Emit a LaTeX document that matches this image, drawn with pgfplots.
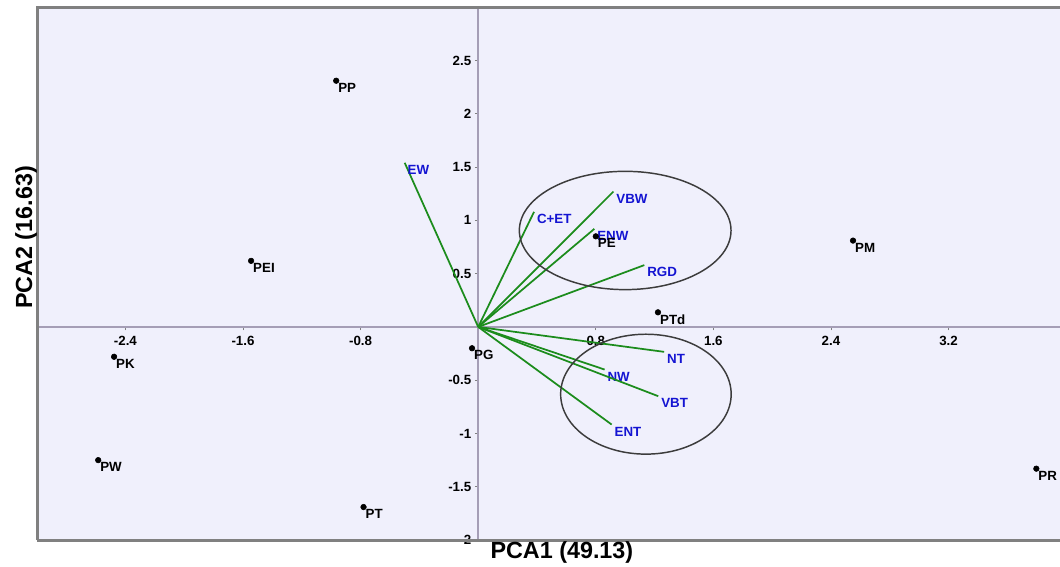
\documentclass[border=0pt]{standalone}
\usepackage{fontspec}
\setmainfont{Liberation Sans}
\usepackage{pgfplots}
\pgfplotsset{compat=1.18}
\usepackage{pgfplotstable}
\definecolor{bgcol}{RGB}{240,240,252}
\definecolor{bordercol}{RGB}{128,128,128}
\definecolor{zerocol}{RGB}{165,158,182}
\definecolor{veccol}{RGB}{28,140,28}
\definecolor{labcol}{RGB}{20,20,210}
\definecolor{ellcol}{RGB}{60,60,60}

\tikzset{
  vec/.style={draw=veccol, line width=1.3pt},
  vlab/.style={anchor=west, text=labcol, inner sep=0pt, xshift=1.6pt, yshift=-5.2pt, font=\fontsize{10}{11}\selectfont\bfseries},
}

\pgfplotstableread{
x y label
-0.966 2.31 PP
-1.545 0.62 PEI
-2.477 -0.28 PK
-2.585 -1.25 PW
-0.78 -1.69 PT
-0.042 -0.20 PG
0.80 0.85 PE
2.55 0.81 PM
1.223 0.137 PTd
3.797 -1.33 PR
}\scores

\begin{document}
\begin{tikzpicture}
\begin{axis}[
  x=110.2pt, y=79.9pt,
  xmin=-3, xmax=3.958, ymin=-2, ymax=3,
  axis lines=middle,
  axis line style={-, draw=zerocol, line width=1.5pt},
  axis background/.style={fill=bgcol},
  xtick={-2.4,-1.6,-0.8,0.8,1.6,2.4,3.2},
  xticklabels={-2.4,-1.6,-0.8,0.8,1.6,2.4,3.2},
  ytick={-2,-1.5,-1,-0.5,0.5,1,1.5,2,2.5},
  yticklabels={-2,-1.5,-1,-0.5,0.5,1,1.5,2,2.5},
  tick align=outside,
  major tick length=2.5pt,
  tick style={draw=bordercol, line width=0.6pt},
  ticklabel style={font=\fontsize{10}{11}\selectfont\bfseries, inner sep=1pt},
  xticklabel style={yshift=-3pt},
  yticklabel style={xshift=-1.5pt},
  xlabel={PCA1 (49.13)},
  ylabel={PCA2 (16.63)},
  xlabel style={at={(rel axis cs:0.513,0)}, anchor=north, inner sep=0pt, yshift=-1pt, font=\fontsize{17.5}{19}\selectfont\bfseries},
  ylabel style={at={(rel axis cs:0,0.573)}, anchor=south, rotate=90, inner sep=0pt, xshift=-2pt, font=\fontsize{17.5}{19}\selectfont\bfseries},
  clip=false,
]
\coordinate (bl) at (rel axis cs:0,0);
\coordinate (tr) at (rel axis cs:1,1);
\draw[bordercol, line width=2.2pt] (rel axis cs:0,0) -- (rel axis cs:0,1) -- (rel axis cs:1,1);
\draw[bordercol, line width=2.2pt] (rel axis cs:0,0) -- (rel axis cs:1,0);

\addplot[vec] coordinates {(0,0) (-0.50,1.54)} node[vlab, pos=1] {EW};
\addplot[vec] coordinates {(0,0) (0.38,1.08)} node[vlab, pos=1] {C+ET};
\addplot[vec] coordinates {(0,0) (0.92,1.27)} node[vlab, pos=1] {VBW};
\addplot[vec] coordinates {(0,0) (0.79,0.92)} node[vlab, pos=1] {ENW};
\addplot[vec] coordinates {(0,0) (1.13,0.58)} node[vlab, pos=1] {RGD};
\addplot[vec] coordinates {(0,0) (1.265,-0.234)} node[vlab, pos=1] {NT};
\addplot[vec] coordinates {(0,0) (0.86,-0.40)} node[vlab, pos=1] {NW};
\addplot[vec] coordinates {(0,0) (1.225,-0.65)} node[vlab, pos=1] {VBT};
\addplot[vec] coordinates {(0,0) (0.908,-0.916)} node[vlab, pos=1] {ENT};

\addplot[only marks, mark=*, mark size=2.1pt, black,
  nodes near coords, point meta=explicit symbolic,
  every node near coord/.style={anchor=west, inner sep=0pt, xshift=1.4pt, yshift=-5.2pt, text=black, font=\fontsize{10}{11}\selectfont\bfseries}]
  table[x=x, y=y, meta=label] {\scores};

\draw[ellcol, line width=1.1pt] (axis cs:1.0,0.905) ellipse [x radius=0.72, y radius=0.555];
\draw[ellcol, line width=1.1pt] (axis cs:1.141,-0.631) ellipse [x radius=0.58, y radius=0.5625];
\end{axis}
\pgfresetboundingbox
\path ([shift={(-27.9pt,-19.5pt)}]bl) rectangle ([shift={(0pt,5.4pt)}]tr);
\end{tikzpicture}
\end{document}
